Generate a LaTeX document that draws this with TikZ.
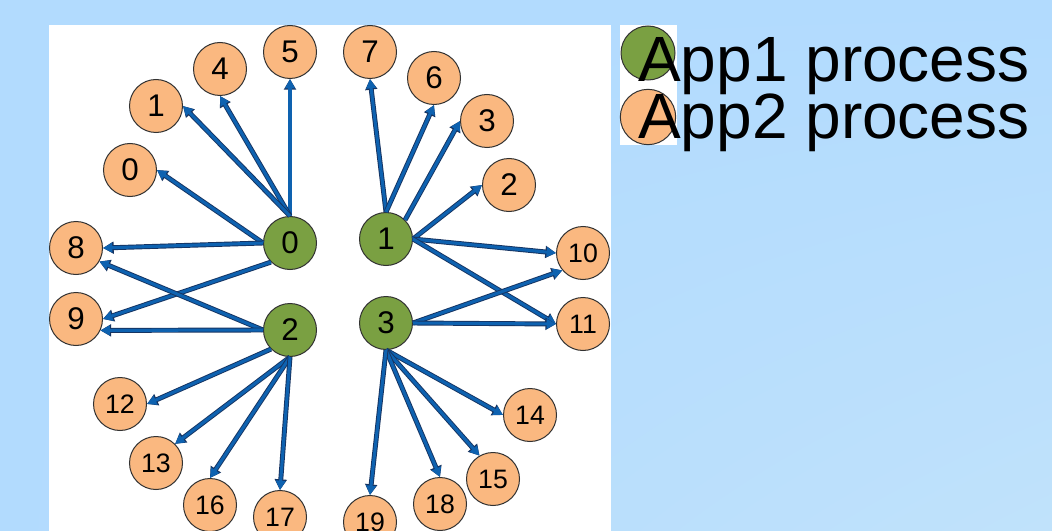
\documentclass[tikz,border=0pt]{standalone}
\usepackage{fontspec}
\setmainfont{Liberation Sans}
\usetikzlibrary{arrows.meta,shadings}
\definecolor{bgA}{RGB}{178,219,254}
\definecolor{bgB}{RGB}{192,226,251}
\definecolor{greenfill}{RGB}{122,160,66}
\definecolor{orangefill}{RGB}{250,184,128}
\definecolor{nodeedge}{RGB}{50,50,50}
\definecolor{arrowblue}{RGB}{14,98,176}
\definecolor{arrowdark}{RGB}{22,52,98}
\begin{document}
\begin{tikzpicture}[x=0.75pt,y=-0.75pt,
  proc/.style={circle, draw=nodeedge, line width=0.75pt, minimum size=39.75pt, inner sep=0pt, text=black},
  appone/.style={proc, fill=greenfill, font=\fontsize{23.5}{23.5}\selectfont},
  apptwo/.style={proc, fill=orangefill, font=\fontsize{23.5}{23.5}\selectfont},
  apptwosmall/.style={apptwo, font=\fontsize{20}{20}\selectfont},
  link/.style={-{Triangle[length=7pt,width=7pt]}, line width=2.3pt, draw=arrowblue,
    preaction={draw=arrowdark, line width=3.7pt, -{Triangle[length=8pt,width=8.8pt]}}},
  legendtext/.style={anchor=base west, inner sep=0pt, font=\fontsize{48}{48}\selectfont}
]
\useasboundingbox (0,0) rectangle (1052,531);
\clip (0,0) rectangle (1052,531);
\shade[upper left=bgA, lower left=bgA, upper right=bgA, lower right=bgB] (0,0) rectangle (1052,531);
\fill[white] (49,25) rectangle (611,531);
\fill[white] (620,25) rectangle (677,145);

% App1 processes
\node[appone] (g0) at (290,243) {0};
\node[appone] (g1) at (386,239) {1};
\node[appone] (g2) at (290,330) {2};
\node[appone] (g3) at (386,323) {3};

% App2 processes
\node[apptwo] (o0) at (130,170) {0};
\node[apptwo] (o1) at (156,106) {1};
\node[apptwo] (o2) at (509,185) {2};
\node[apptwo] (o3) at (487,121) {3};
\node[apptwo] (o4) at (220,69) {4};
\node[apptwo] (o5) at (290,52) {5};
\node[apptwo] (o6) at (434,78) {6};
\node[apptwo] (o7) at (370,52) {7};
\node[apptwo] (o8) at (76,248) {8};
\node[apptwo] (o9) at (76,319) {9};
\node[apptwosmall] (o10) at (583,253) {10};
\node[apptwosmall] (o11) at (583,324) {11};
\node[apptwosmall] (o12) at (120,404) {12};
\node[apptwosmall] (o13) at (156,463) {13};
\node[apptwosmall] (o14) at (530,415) {14};
\node[apptwosmall] (o15) at (493,479) {15};
\node[apptwosmall] (o16) at (210,505) {16};
\node[apptwosmall] (o17) at (280,517) {17};
\node[apptwosmall] (o18) at (440,504) {18};
\node[apptwosmall] (o19) at (370,522) {19};

% connectors from 0
\draw[link] (g0.north) -- (o5.south);
\draw[link] (g0.north) -- (o4.south);
\draw[link] (g0.north) -- (o1.east);
\draw[link] (g0.west) -- (o0.east);
\draw[link] (g0.west) -- (o8.east);
\draw[link] (g0.south west) -- (o9.east);
% connectors from 1
\draw[link] (g1.north) -- (o7.south);
\draw[link] (g1.north) -- (o6.south);
\draw[link] (g1.north east) -- (o3.west);
\draw[link] (g1.east) -- (o2.west);
\draw[link] (g1.east) -- (o10.west);
\draw[link] (g1.east) -- (o11.west);
% connectors from 2
\draw[link] (g2.west) -- (o8.-30);
\draw[link] (g2.west) -- (o9.-25);
\draw[link] (g2.south west) -- (o12.east);
\draw[link] (g2.south) -- (o13.45);
\draw[link] (g2.south) -- (o16.north);
\draw[link] (g2.south) -- (o17.north);
% connectors from 3
\draw[link] (g3.east) -- (o10.220);
\draw[link] (g3.east) -- (o11.west);
\draw[link] (g3.south) -- (o14.west);
\draw[link] (g3.south) -- (o15.120);
\draw[link] (g3.south) -- (o18.north);
\draw[link] (g3.south) -- (o19.north);

% legend
\node[proc, fill=greenfill, minimum size=40.5pt] (lg) at (648,53) {};
\node[proc, fill=orangefill, minimum size=41.5pt] (lo) at (648,117) {};
\node[legendtext] (t1) at (638,82) {App1 process};
\node[legendtext] (t2) at (638,139) {App2 process};
\end{tikzpicture}
\end{document}
